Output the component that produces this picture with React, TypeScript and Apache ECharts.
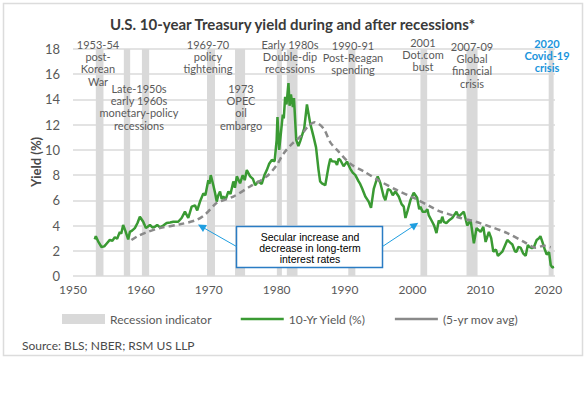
import React, { useEffect, useRef } from "react";
import * as echarts from "echarts";

const FONT = 'Lato, "Open Sans", sans-serif';

const chartTitle = "U.S. 10-year Treasury yield during and after recessions*";
const sourceText = "Source: BLS; NBER; RSM US LLP";

const xTicks = { min: 1950, max: 2021, interval: 10 };
const yTicks = { min: 0, max: 18, interval: 2 };

const recessionStarts = [1953.36, 1957.49, 1960.15, 1969.74, 1973.87, 1980.03, 1981.5, 1990.55, 2001.18, 2007.97, 2020.07];
const recessionEnds = [1954.49, 1958.42, 1961.22, 1970.92, 1975.35, 1980.77, 1983.07, 1991.59, 2002.17, 2009.59, 2020.8];

const yield10: [number, number][] = [
  [1953.2, 2.9], [1953.36, 3.15], [1953.7, 2.75], [1954.2, 2.3], [1954.6, 2.35], [1955.0, 2.6],
  [1955.42, 2.86], [1955.8, 2.8], [1956.16, 3.07], [1956.5, 2.95], [1956.9, 3.5], [1957.1, 3.35],
  [1957.39, 4.05], [1957.7, 3.6], [1958.13, 2.9], [1958.38, 3.5], [1958.7, 3.6], [1959.11, 3.8],
  [1959.5, 4.2], [1959.85, 4.7], [1960.1, 4.5], [1960.34, 4.3], [1960.74, 3.8], [1961.0, 3.9],
  [1961.33, 4.05], [1961.7, 3.85], [1962.07, 3.9], [1962.4, 4.05], [1962.8, 3.85], [1963.3, 4.0],
  [1963.79, 4.2], [1964.3, 4.25], [1964.77, 4.3], [1965.5, 4.3], [1966.0, 4.6], [1966.49, 5.1],
  [1966.98, 4.6], [1967.48, 5.5], [1967.97, 5.6], [1968.3, 5.2], [1968.71, 5.9], [1969.2, 6.55],
  [1969.5, 6.4], [1969.93, 7.6], [1970.1, 7.3], [1970.29, 8.0], [1970.67, 7.2], [1970.92, 6.6],
  [1971.17, 5.9], [1971.4, 6.4], [1971.66, 6.7], [1971.9, 6.1], [1972.15, 6.3], [1972.5, 6.1],
  [1972.89, 6.7], [1973.2, 6.5], [1973.62, 7.5], [1973.85, 7.0], [1974.13, 7.9], [1974.61, 7.35],
  [1975.0, 8.0], [1975.3, 7.6], [1975.6, 8.4], [1976.09, 7.9], [1976.5, 7.7], [1976.83, 7.2],
  [1977.31, 7.5], [1977.8, 7.3], [1978.2, 8.0], [1978.55, 8.4], [1978.9, 8.9], [1979.29, 9.2],
  [1979.7, 9.1], [1980.0, 10.8], [1980.12, 12.6], [1980.37, 10.0], [1980.62, 11.3], [1980.9, 12.8],
  [1981.05, 12.5], [1981.25, 14.2], [1981.45, 13.6], [1981.74, 15.3], [1981.9, 13.5], [1982.1, 14.4],
  [1982.39, 13.4], [1982.55, 14.1], [1982.88, 10.8], [1983.2, 10.3], [1983.47, 10.7], [1984.06, 11.7],
  [1984.46, 13.6], [1984.94, 12.1], [1985.43, 11.05], [1985.8, 10.2], [1986.17, 8.4], [1986.4, 7.5],
  [1986.67, 7.35], [1987.16, 7.2], [1987.65, 8.7], [1987.9, 9.3], [1988.15, 9.1], [1988.63, 9.07],
  [1988.89, 8.8], [1989.12, 9.3], [1989.37, 9.2], [1989.86, 8.7], [1990.36, 9.07], [1990.85, 8.5],
  [1991.2, 8.2], [1991.59, 8.0], [1992.07, 7.5], [1992.3, 7.3], [1992.58, 6.96], [1993.06, 6.3],
  [1993.55, 5.9], [1993.9, 5.4], [1994.3, 6.9], [1994.88, 7.9], [1995.28, 7.35], [1995.76, 6.3],
  [1996.01, 6.0], [1996.4, 6.9], [1996.75, 6.8], [1997.1, 6.4], [1997.49, 6.7], [1997.98, 6.3],
  [1998.4, 5.7], [1998.72, 5.5], [1998.97, 4.6], [1999.3, 5.2], [1999.7, 6.0], [2000.19, 6.6],
  [2000.69, 6.2], [2001.0, 5.3], [2001.18, 5.5], [2001.5, 5.1], [2001.92, 5.1], [2002.2, 5.3],
  [2002.41, 4.8], [2002.91, 4.3], [2003.2, 4.0], [2003.54, 3.4], [2003.88, 4.4], [2004.13, 4.2],
  [2004.4, 4.7], [2004.62, 4.3], [2005.0, 4.2], [2005.36, 4.4], [2005.86, 4.6], [2006.49, 5.1],
  [2006.8, 4.7], [2007.08, 4.85], [2007.57, 5.1], [2008.07, 4.0], [2008.3, 4.2], [2008.56, 4.45],
  [2009.05, 2.6], [2009.45, 3.8], [2010.04, 3.5], [2010.44, 3.9], [2010.78, 2.7], [2011.26, 3.5],
  [2011.6, 3.0], [2011.91, 1.93], [2012.3, 2.1], [2012.59, 1.6], [2013.24, 1.93], [2013.98, 2.86],
  [2014.4, 2.65], [2014.72, 2.5], [2015.1, 1.95], [2015.35, 1.93], [2015.6, 2.3], [2015.94, 2.25],
  [2016.3, 1.8], [2016.68, 1.6], [2017.0, 2.45], [2017.17, 2.33], [2017.6, 2.2], [2017.9, 2.3],
  [2018.3, 2.85], [2018.64, 3.0], [2018.85, 3.15], [2019.14, 2.7], [2019.5, 2.1], [2019.78, 1.7],
  [2020.12, 1.9], [2020.37, 0.87], [2020.6, 0.68], [2020.86, 0.72],
];

const movAvg5: [number, number][] = [
  [1958.6, 2.85], [1959.5, 3.15], [1961.0, 3.5], [1962.8, 3.8], [1965.75, 4.1], [1968.22, 4.45],
  [1969.5, 4.9], [1970.67, 5.55], [1971.17, 5.8], [1973.62, 6.3], [1976.09, 7.1], [1978.55, 7.9],
  [1980.0, 8.8], [1981.0, 9.7], [1982.3, 10.5], [1983.47, 11.05], [1984.5, 11.8], [1985.6, 12.2],
  [1986.9, 11.7], [1987.9, 10.6], [1988.89, 10.0], [1990.85, 8.9], [1992.81, 8.3], [1995.28, 7.5],
  [1997.74, 6.8], [2000.19, 6.2], [2002.66, 5.5], [2004.13, 5.1], [2005.12, 4.95], [2007.08, 4.6],
  [2009.3, 4.3], [2011.52, 3.9], [2013.98, 3.4], [2016.43, 2.7], [2018.16, 2.25], [2019.38, 2.4],
  [2020.37, 2.28],
];

const annotations: { text: string; x: number; y: number; blue?: boolean }[] = [
  { text: "1953-54\npost-\nKorean\nWar", x: 98, y: 38 },
  { text: "Late-1950s\nearly 1960s\nmonetary-policy\nrecessions", x: 139, y: 82 },
  { text: "1969-70\npolicy\ntightening", x: 208, y: 38 },
  { text: "1973\nOPEC\noil\nembargo", x: 241, y: 82 },
  { text: "Early 1980s\nDouble-dip\nrecessions", x: 290, y: 38 },
  { text: "1990-91\nPost-Reagan\nspending", x: 353, y: 39 },
  { text: "2001\nDot.com\nbust", x: 423, y: 36 },
  { text: "2007-09\nGlobal\nfinancial\ncrisis", x: 472, y: 40 },
  { text: "2020\nCovid-19\ncrisis", x: 547, y: 37, blue: true },
];

const calloutText = "Secular increase and\ndecrease in long-term\ninterest rates";

export default function App() {
  const ref = useRef<HTMLDivElement>(null);
  useEffect(() => {
    document.body.style.margin = "0";
    const chart = echarts.init(ref.current!, undefined, { renderer: "svg" });
    const recessionData = recessionStarts.map((s, i) => [s, recessionEnds[i], 0]);
    const gray = "#595959";
    const green = "#3a9a33";
    const dashGray = "#8a8a8a";
    const arrowColor = "#1f9ee0";
    chart.setOption({
      animation: false,
      backgroundColor: "#ffffff",
      title: {
        text: chartTitle,
        left: "center",
        top: 11,
        textStyle: { fontFamily: FONT, fontSize: 15, fontWeight: "bold", color: "#3a3a3a" },
      },
      grid: { left: 73, right: 30, top: 49, bottom: 119 },
      xAxis: {
        type: "value",
        min: xTicks.min,
        max: xTicks.max,
        interval: xTicks.interval,
        axisLine: { show: false },
        axisTick: { show: false },
        splitLine: { show: false },
        axisLabel: {
          color: gray,
          fontSize: 12,
          fontFamily: FONT,
          margin: 7,
          showMaxLabel: false,
          formatter: (v: number) => String(v),
        },
      },
      yAxis: {
        type: "value",
        min: yTicks.min,
        max: yTicks.max,
        interval: yTicks.interval,
        axisLine: { show: false },
        axisTick: { show: false },
        splitLine: { lineStyle: { color: "#dadada", width: 1.5 } },
        axisLabel: { color: gray, fontSize: 13, fontFamily: FONT, margin: 13 },
      },
      legend: {
        left: 62,
        top: 313,
        padding: 0,
        itemWidth: 43,
        itemHeight: 10,
        itemGap: 28,
        textStyle: { color: gray, fontSize: 12, fontFamily: FONT },
        data: [
          { name: "Recession indicator", icon: "rect" },
          {
            name: "10-Yr Yield (%)",
            itemStyle: { opacity: 0 },
            lineStyle: { color: green, width: 2.5, type: "solid", opacity: 1 },
          },
          {
            name: "(5-yr mov avg)",
            itemStyle: { opacity: 0 },
            lineStyle: { color: dashGray, width: 2.5, type: "solid", opacity: 1 },
          },
        ],
      },
      series: [
        {
          name: "Recession indicator",
          type: "custom",
          clip: false,
          z: 1,
          itemStyle: { color: "#d9d9d9" },
          encode: { x: [0, 1], y: 2 },
          data: recessionData,
          renderItem: (params: any, api: any) => {
            const p1 = api.coord([api.value(0), yTicks.max]);
            const p2 = api.coord([api.value(1), yTicks.min]);
            return {
              type: "rect",
              shape: { x: p1[0], y: p1[1], width: p2[0] - p1[0], height: p2[1] - p1[1] },
              style: { fill: "#d9d9d9" },
            };
          },
        },
        {
          name: "10-Yr Yield (%)",
          type: "line",
          clip: false,
          z: 3,
          symbol: "none",
          data: yield10,
          lineStyle: { color: green, width: 2.5 },
          itemStyle: { color: green },
        },
        {
          name: "(5-yr mov avg)",
          type: "line",
          clip: false,
          z: 4,
          symbol: "none",
          smooth: 0.3,
          data: movAvg5,
          lineStyle: { color: dashGray, width: 2.5, type: [6, 4] },
          itemStyle: { color: dashGray },
        },
      ],
      graphic: [
        {
          type: "rect",
          silent: true,
          shape: { x: 3.5, y: 3.5, width: 579, height: 352 },
          style: { fill: "none", stroke: "#dcdcdc", lineWidth: 1.5 },
          z: -10,
        },
        {
          type: "text",
          x: 36,
          y: 162,
          rotation: Math.PI / 2,
          style: {
            text: "Yield (%)",
            fontFamily: FONT,
            fontSize: 13,
            fontWeight: "bold",
            fill: "#4a4a4a",
            align: "center",
            verticalAlign: "middle",
          },
        },
        ...annotations.map((a) => ({
          type: "text",
          x: a.x,
          y: a.y,
          z: 10,
          style: {
            text: a.text,
            fontFamily: FONT,
            fontSize: 11,
            fontWeight: a.blue ? "bold" : "normal",
            lineHeight: 12.3,
            fill: a.blue ? "#1a95dc" : "#5a5a5a",
            align: "center",
            verticalAlign: "top",
          },
        })),
        {
          type: "rect",
          z: 20,
          shape: { x: 236.5, y: 226.5, width: 146, height: 41 },
          style: { fill: "#ffffff", stroke: "#2a7cc4", lineWidth: 1.5 },
        },
        {
          type: "text",
          z: 21,
          x: 310,
          y: 231,
          style: {
            text: calloutText,
            fontFamily: '"Liberation Sans", Arial, sans-serif',
            fontSize: 10.5,
            lineHeight: 11,
            fill: "#000000",
            align: "center",
            verticalAlign: "top",
          },
        },
        {
          type: "line",
          z: 20,
          shape: { x1: 236.5, y1: 246.5, x2: 204, y2: 228 },
          style: { stroke: arrowColor, lineWidth: 1 },
        },
        {
          type: "polygon",
          z: 20,
          shape: { points: [[198, 224.5], [206.9, 225.0], [203.0, 231.9]] },
          style: { fill: arrowColor },
        },
        {
          type: "line",
          z: 20,
          shape: { x1: 382.5, y1: 246.5, x2: 412, y2: 227 },
          style: { stroke: arrowColor, lineWidth: 1 },
        },
        {
          type: "polygon",
          z: 20,
          shape: { points: [[418.3, 222.7], [413.9, 230.5], [409.4, 223.9]] },
          style: { fill: arrowColor },
        },
        {
          type: "text",
          x: 22,
          y: 345,
          style: {
            text: sourceText,
            fontFamily: FONT,
            fontSize: 12,
            fill: "#4a4a4a",
            align: "left",
            verticalAlign: "middle",
          },
        },
      ],
    });
    return () => chart.dispose();
  }, []);
  return <div ref={ref} style={{ width: 585, height: 395, background: "#fff" }} />;
}
